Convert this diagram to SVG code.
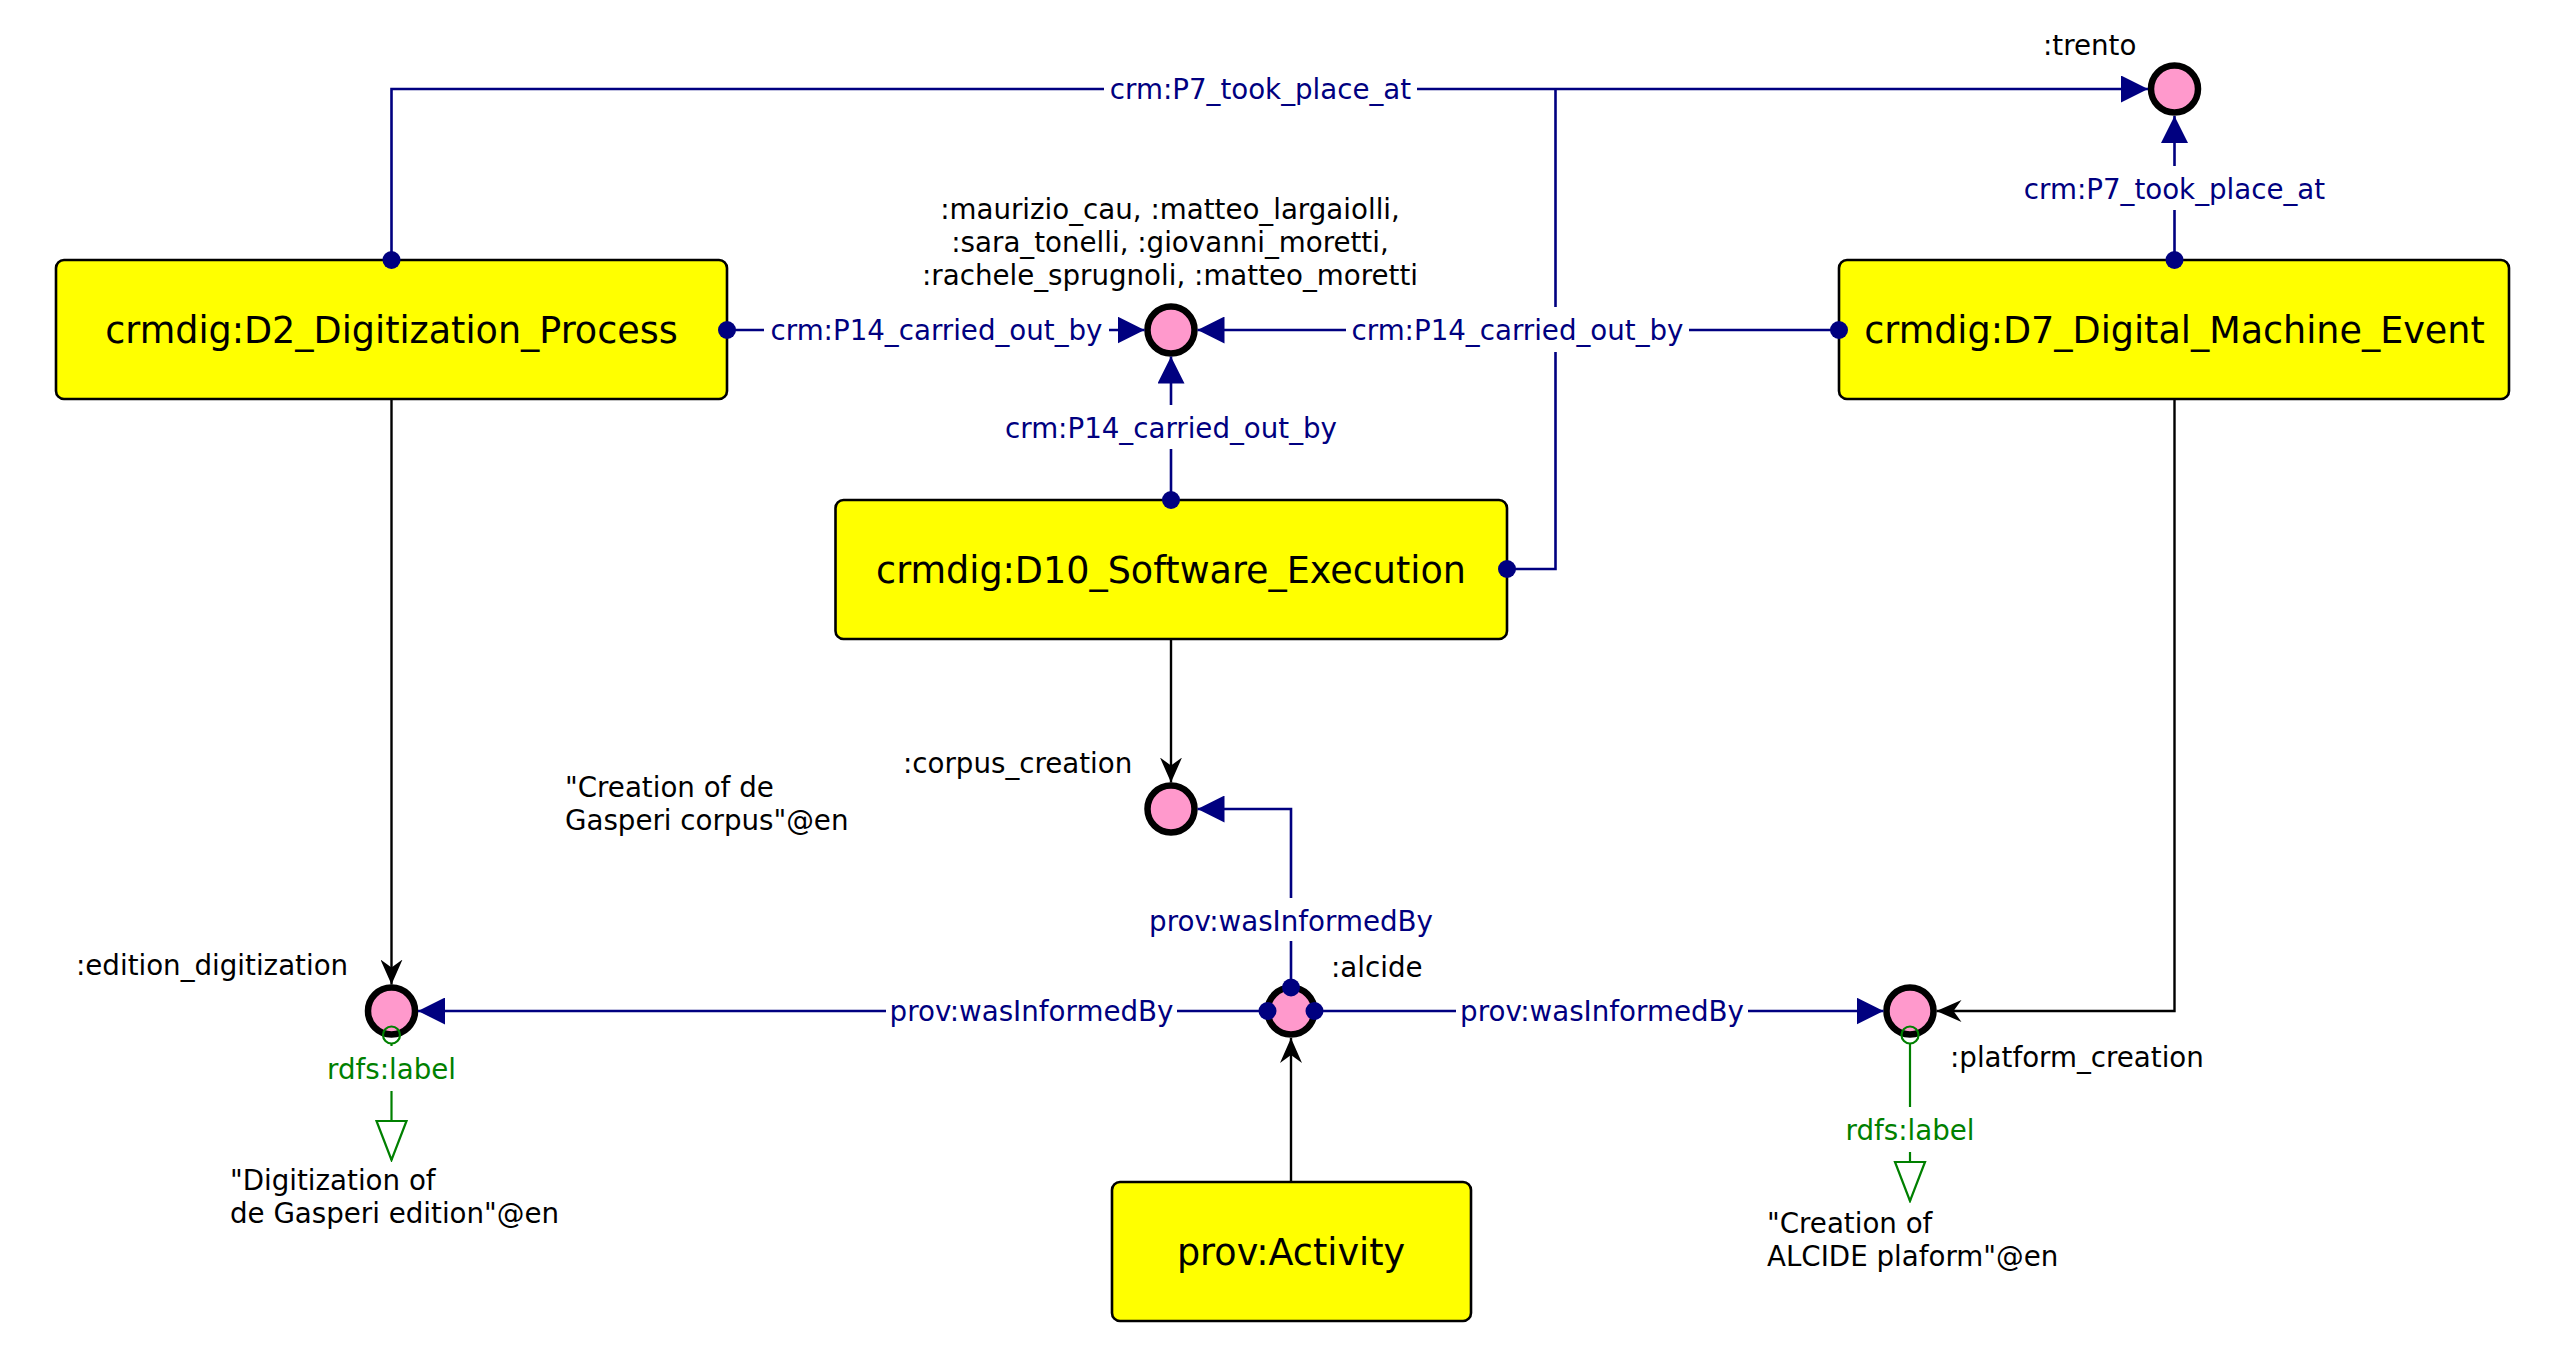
<svg xmlns="http://www.w3.org/2000/svg" width="2557" height="1357" viewBox="0 0 2557 1357">
<style>
.box{fill:#FFFF00;stroke:#000;stroke-width:2.6}
.ntext{font-family:"DejaVu Sans",sans-serif;font-size:36.5px;fill:#000;text-anchor:middle}
.ind{fill:#FF99CC;stroke:#000;stroke-width:6.5}
.lbl{font-family:"DejaVu Sans",sans-serif;font-size:27.7px;fill:#000}
.prop{stroke:#000080;stroke-width:2.6;fill:none}
.typ{stroke:#000;stroke-width:2.4;fill:none}
.glin{stroke:#008000;stroke-width:2.2;fill:none}
.elbl{font-family:"DejaVu Sans",sans-serif;font-size:27.7px;fill:#000080;text-anchor:middle}
.glbl{font-family:"DejaVu Sans",sans-serif;font-size:27.7px;fill:#008000;text-anchor:middle}
.bg{fill:#fff}
.dot{fill:#000080}
.gcirc{fill:none;stroke:#008000;stroke-width:2.2}
</style>
<defs>
<marker id="navyArrow" markerUnits="userSpaceOnUse" viewBox="0 0 27 27" markerWidth="27" markerHeight="27" refX="27" refY="13.5" orient="auto">
<path d="M0,0 L27,13.5 L0,27 Z" fill="#000080"/>
</marker>
<marker id="blackArrow" markerUnits="userSpaceOnUse" viewBox="0 0 25 22" markerWidth="25" markerHeight="22" refX="25" refY="11" orient="auto">
<path d="M0,0 L25,11 L0,22 L8,11 Z" fill="#000"/>
</marker>
<marker id="greenTri" markerUnits="userSpaceOnUse" viewBox="-2 -2 43 34" markerWidth="43" markerHeight="34" refX="39" refY="15" orient="auto">
<path d="M0,0 L39,15 L0,30 Z" fill="#fff" stroke="#008000" stroke-width="2.2"/>
</marker>
</defs>

<g id="D2">
<rect class="box" x="56" y="260" width="671" height="139" rx="8"/>
<text class="ntext" x="391.5" y="343">crmdig:D2_Digitization_Process</text>
</g>
<g id="D7">
<rect class="box" x="1839" y="260" width="670" height="139" rx="8"/>
<text class="ntext" x="2174.5" y="343">crmdig:D7_Digital_Machine_Event</text>
</g>
<g id="D10">
<rect class="box" x="835.5" y="500" width="671.5" height="139" rx="8"/>
<text class="ntext" x="1171" y="583">crmdig:D10_Software_Execution</text>
</g>
<g id="activity">
<rect class="box" x="1112" y="1182" width="359" height="139" rx="8"/>
<text class="ntext" x="1291" y="1265">prov:Activity</text>
</g>

<g id="trento">
<circle class="ind" cx="2174.5" cy="89" r="23.5"/>
<text class="lbl" x="2043" y="55">:trento</text>
</g>
<g id="persons">
<circle class="ind" cx="1171" cy="330" r="23.5"/>
<text class="lbl" text-anchor="middle"><tspan x="1170" y="219">:maurizio_cau, :matteo_largaiolli,</tspan><tspan x="1170" y="252">:sara_tonelli, :giovanni_moretti,</tspan><tspan x="1170" y="285">:rachele_sprugnoli, :matteo_moretti</tspan></text>
</g>
<g id="corpus_creation">
<circle class="ind" cx="1171" cy="809" r="23.5"/>
<text class="lbl" x="903" y="773">:corpus_creation</text>
<text class="lbl"><tspan x="565" y="797">"Creation of de</tspan><tspan x="565" y="830">Gasperi corpus"@en</tspan></text>
</g>
<g id="edition_digitization">
<circle class="ind" cx="391.5" cy="1011" r="23.5"/>
<text class="lbl" x="76" y="975">:edition_digitization</text>
<text class="lbl"><tspan x="230" y="1190">"Digitization of</tspan><tspan x="230" y="1223">de Gasperi edition"@en</tspan></text>
</g>
<g id="alcide">
<circle class="ind" cx="1291" cy="1011" r="23.5"/>
<text class="lbl" x="1331" y="977">:alcide</text>
</g>
<g id="platform_creation">
<circle class="ind" cx="1910" cy="1011" r="23.5"/>
<text class="lbl" x="1950" y="1067">:platform_creation</text>
<text class="lbl"><tspan x="1767" y="1233">"Creation of</tspan><tspan x="1767" y="1266">ALCIDE plaform"@en</tspan></text>
</g>

<g id="connectors">
<!-- P7 took place at -->
<path class="prop" d="M391.5,260 V89 H2148" marker-end="url(#navyArrow)"/>
<path class="prop" d="M1507,569 H1555.5 V89"/>
<path class="prop" d="M2174.5,260 V116" marker-end="url(#navyArrow)"/>
<!-- P14 carried out by -->
<path class="prop" d="M727,330 H1144.5" marker-end="url(#navyArrow)"/>
<path class="prop" d="M1839,330 H1197.5" marker-end="url(#navyArrow)"/>
<path class="prop" d="M1171,500 V356.5" marker-end="url(#navyArrow)"/>
<!-- types -->
<path class="typ" d="M391.5,399 V984.5" marker-end="url(#blackArrow)"/>
<path class="typ" d="M1171,639 V782.5" marker-end="url(#blackArrow)"/>
<path class="typ" d="M2174.5,399 V1011 H1936.5" marker-end="url(#blackArrow)"/>
<path class="typ" d="M1291,1182 V1038" marker-end="url(#blackArrow)"/>
<!-- wasInformedBy -->
<path class="prop" d="M1267,1011 H418" marker-end="url(#navyArrow)"/>
<path class="prop" d="M1315,1011 H1883.5" marker-end="url(#navyArrow)"/>
<path class="prop" d="M1291,987 V809 H1197.5" marker-end="url(#navyArrow)"/>
<!-- rdfs:label -->
<path class="glin" d="M391.5,1044 V1160" marker-end="url(#greenTri)"/>
<path class="glin" d="M1910,1044 V1201" marker-end="url(#greenTri)"/>
<circle class="gcirc" cx="391.5" cy="1035" r="8.5"/>
<circle class="gcirc" cx="1910" cy="1035" r="8.5"/>
<!-- source dots -->
<circle class="dot" cx="391.5" cy="260" r="9"/>
<circle class="dot" cx="1507" cy="569" r="9"/>
<circle class="dot" cx="2174.5" cy="260" r="9"/>
<circle class="dot" cx="727" cy="330" r="9"/>
<circle class="dot" cx="1839" cy="330" r="9"/>
<circle class="dot" cx="1171" cy="500" r="9"/>
<circle class="dot" cx="1267.5" cy="1011" r="9"/>
<circle class="dot" cx="1314.5" cy="1011" r="9"/>
<circle class="dot" cx="1291" cy="987.5" r="9"/>
<!-- labels -->
<rect class="bg" x="1104" y="66" width="313" height="45"/>
<text class="elbl" x="1260.5" y="99">crm:P7_took_place_at</text>
<rect class="bg" x="2020" y="166" width="309" height="44"/>
<text class="elbl" x="2174.5" y="199">crm:P7_took_place_at</text>
<rect class="bg" x="764" y="307" width="345" height="45"/>
<text class="elbl" x="936.5" y="340">crm:P14_carried_out_by</text>
<rect class="bg" x="1346" y="307" width="343" height="45"/>
<text class="elbl" x="1517.5" y="340">crm:P14_carried_out_by</text>
<rect class="bg" x="998" y="405" width="346" height="44"/>
<text class="elbl" x="1171" y="438">crm:P14_carried_out_by</text>
<rect class="bg" x="1144" y="898" width="294" height="43"/>
<text class="elbl" x="1291" y="931">prov:wasInformedBy</text>
<rect class="bg" x="886" y="988" width="291" height="45"/>
<text class="elbl" x="1031.5" y="1021">prov:wasInformedBy</text>
<rect class="bg" x="1456" y="988" width="292" height="45"/>
<text class="elbl" x="1602" y="1021">prov:wasInformedBy</text>
<rect class="bg" x="322" y="1046" width="139" height="45"/>
<text class="glbl" x="391.5" y="1079">rdfs:label</text>
<rect class="bg" x="1840" y="1107" width="140" height="45"/>
<text class="glbl" x="1910" y="1140">rdfs:label</text>
</g>
</svg>
